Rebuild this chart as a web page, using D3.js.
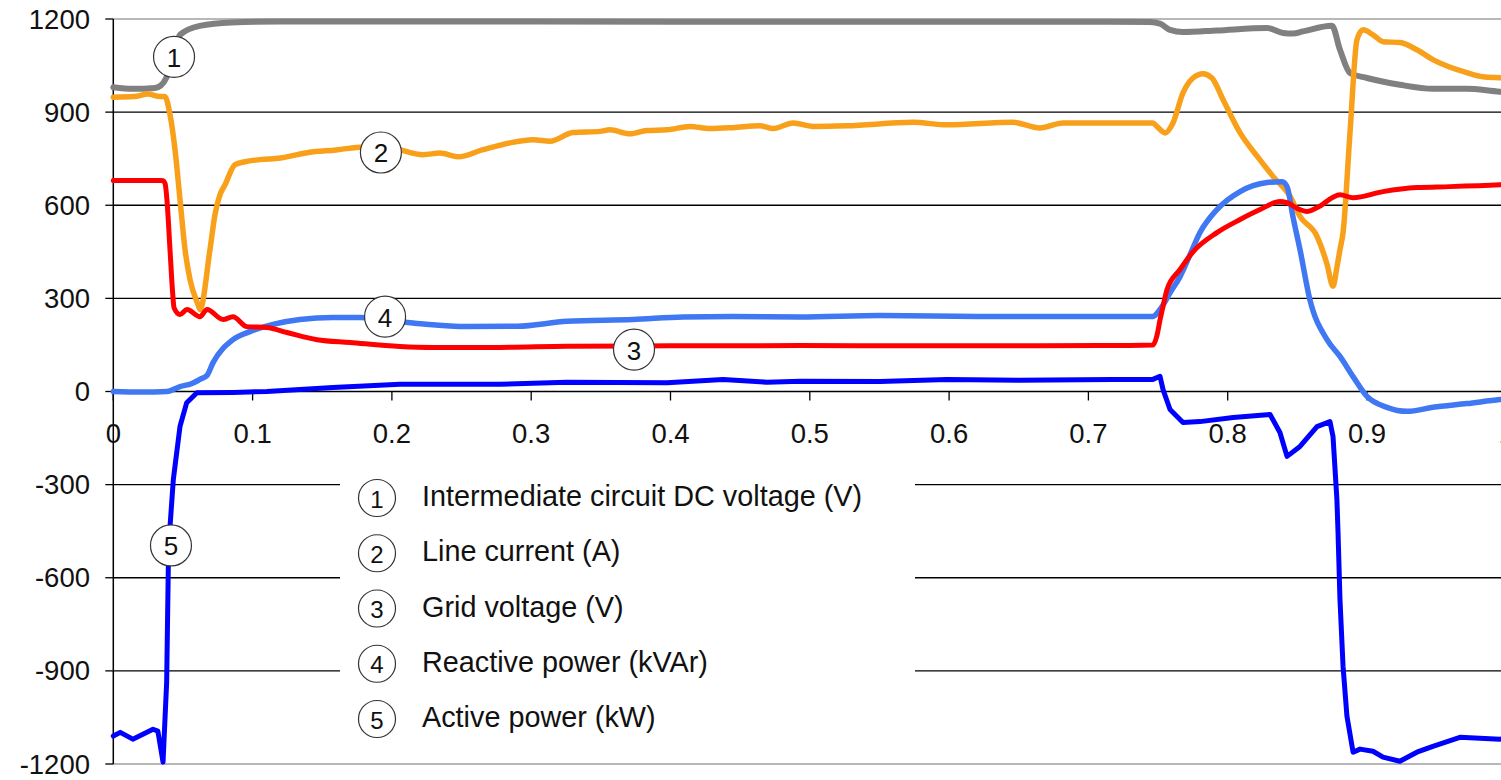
<!DOCTYPE html>
<html>
<head>
<meta charset="utf-8">
<script src="https://cdn.jsdelivr.net/npm/d3@7/dist/d3.min.js"></script>
<style>
  html, body { margin: 0; padding: 0; background: #fff; overflow: hidden; }
  svg { display: block; font-family: "Liberation Sans", Arial, sans-serif; }
</style>
</head>
<body>
<svg id="chart" width="1501" height="780"></svg>
<script>
// Time axis (s) and tick labels
const xTicks = [0, 0.1, 0.2, 0.3, 0.4, 0.5, 0.6, 0.7, 0.8, 0.9, 1];
const xTickLabels = ["0", "0.1", "0.2", "0.3", "0.4", "0.5", "0.6", "0.7", "0.8", "0.9", "1"];
const yTicks = [-1200, -900, -600, -300, 0, 300, 600, 900, 1200];
const yTickLabels = ["-1200", "-900", "-600", "-300", "0", "300", "600", "900", "1200"];

// Series: [time, value]
const dcVoltage = [
  [0,980],[0.014,975],[0.03,978],[0.034,985],[0.038,1010],[0.042,1060],[0.0479,1149],[0.062,1178],
  [0.085,1189],[0.12,1192],[0.3,1192],[0.5,1191],[0.7,1191],[0.7442,1190],[0.7514,1185],[0.7586,1165],
  [0.7679,1158],[0.7923,1163],[0.8283,1171],[0.8397,1155],[0.8468,1153],[0.854,1160],[0.8748,1178],
  [0.8806,1101],[0.8878,1026],[0.9,1010],[0.9236,988],[0.9473,975],[0.9717,975],[0.9954,966],[1,965]
];
const lineCurrent = [
  [0,948],[0.015,950],[0.025,958],[0.0335,950],[0.037,950],[0.0407,892],[0.0443,779],[0.0479,618],
  [0.0515,457],[0.0551,360],[0.0608,280],[0.0622,264],[0.0694,457],[0.073,570],[0.0766,634],[0.0802,666],
  [0.0874,731],[0.0945,740],[0.1053,747],[0.12,752],[0.14,770],[0.16,778],[0.18,788],[0.2,784],
  [0.2223,763],[0.2345,768],[0.2474,756],[0.2654,779],[0.2848,801],[0.3013,811],[0.3135,806],[0.33,834],
  [0.3494,838],[0.3565,843],[0.3709,830],[0.3831,841],[0.3975,843],[0.414,854],[0.4283,847],[0.4448,850],
  [0.4642,856],[0.4737,847],[0.488,865],[0.5023,854],[0.5267,856],[0.5741,867],[0.5985,859],[0.6459,867],
  [0.6652,849],[0.6818,865],[0.7177,865],[0.7463,865],[0.7492,854],[0.755,833],[0.7607,865],[0.7679,962],
  [0.7751,1010],[0.7823,1024],[0.7887,1010],[0.7967,940],[0.8089,833],[0.8211,758],[0.8325,693],
  [0.8447,629],[0.8519,564],[0.8641,500],[0.8713,410],[0.8756,339],[0.8784,400],
  [0.8806,457],[0.8828,512],[0.8878,834],[0.8928,1133],[0.8972,1165],[0.9043,1149],[0.9115,1127],
  [0.9236,1124],[0.9358,1101],[0.9473,1069],[0.9717,1027],[0.9832,1014],[0.9954,1011],[1,1010]
];
const gridVoltage = [
  [0,680],[0.034,680],[0.0357,679],[0.0372,670],[0.0385,618],[0.0407,457],[0.0426,318],[0.0436,270],
  [0.0479,248],[0.0529,264],[0.0622,241],[0.0673,264],[0.0788,232],[0.0859,241],[0.0959,209],
  [0.1103,206],[0.1247,190],[0.1462,167],[0.1699,158],[0.2058,145],[0.2295,142],[0.2776,142],
  [0.3257,146],[0.4,147],[0.493,148],[0.6,147],[0.7083,148],[0.7463,150],[0.7492,180],[0.7514,230],
  [0.7536,275],[0.7564,328],[0.7658,393],[0.7751,450],[0.7923,512],[0.8089,554],[0.8232,586],
  [0.8375,612],[0.8426,608],[0.8519,586],[0.8569,580],[0.8641,592],[0.8806,634],[0.89,624],
  [0.9115,644],[0.9358,657],[0.9595,660],[0.9954,666],[1,667]
];
const reactivePower = [
  [0,0],[0.02,-2],[0.0385,0],[0.0479,16],[0.056,25],[0.0622,39],[0.0673,52],[0.0716,93],[0.0859,167],
  [0.098,193],[0.1146,216],[0.134,232],[0.1577,238],[0.1771,238],[0.218,219],[0.2539,209],[0.2898,210],
  [0.3257,226],[0.3731,232],[0.409,240],[0.4448,242],[0.493,240],[0.5504,245],[0.6222,242],[0.7463,242],
  [0.7514,264],[0.7586,318],[0.7658,370],[0.7729,440],[0.7801,512],[0.7923,586],[0.8089,644],
  [0.8283,673],[0.839,676],[0.8426,660],[0.8468,564],[0.8519,457],[0.859,296],[0.8713,167],
  [0.8806,113],[0.89,48],[0.9,-16],[0.9143,-51],[0.9287,-64],[0.9473,-51],[0.9717,-39],[0.9954,-26],[1,-24]
];
const activePower = [
  [0,-1110],[0.005,-1098],[0.014,-1120],[0.0285,-1088],[0.032,-1094],[0.0357,-1194],[0.0383,-937],
  [0.0397,-500],[0.0431,-283],[0.0479,-112],[0.0527,-36],[0.06,-4],[0.0859,-3],[0.1103,0],[0.1577,13],
  [0.2058,23],[0.2776,23],[0.3257,30],[0.3975,28],[0.4377,39],[0.4692,30],[0.493,33],[0.5504,32],
  [0.5985,39],[0.65,36],[0.7177,39],[0.7463,39],[0.7514,49],[0.7536,6],[0.7586,-58],[0.7679,-100],
  [0.7801,-97],[0.8039,-84],[0.8304,-74],[0.8375,-132],[0.8426,-209],[0.8519,-177],[0.8641,-113],
  [0.8734,-97],[0.8756,-145],[0.8784,-348],[0.8792,-454],[0.8806,-670],[0.8828,-885],[0.8856,-1046],
  [0.89,-1162],[0.895,-1152],[0.9043,-1159],[0.9115,-1178],[0.9236,-1191],[0.9358,-1162],
  [0.9473,-1143],[0.9667,-1114],[0.9954,-1120],[1,-1118]
];

const seriesNames = [
  "Intermediate circuit DC voltage (V)",
  "Line current (A)",
  "Grid voltage (V)",
  "Reactive power (kVAr)",
  "Active power (kW)"
];

const svg = d3.select("#chart");
const W = 1501, H = 780;
const x = d3.scaleLinear().domain([0, 1]).range([113.3, 1506.3]);
const y = d3.scaleLinear().domain([-1200, 1200]).range([764, 19]);

svg.append("rect").attr("width", W).attr("height", H).attr("fill", "#fff");

// horizontal gridlines
svg.append("g").selectAll("line").data(yTicks).join("line")
  .attr("x1", x(0)).attr("x2", W)
  .attr("y1", d => y(d)).attr("y2", d => y(d))
  .attr("stroke", d => Math.abs(d) === 1200 ? "#a0a0a0" : "#000")
  .attr("stroke-width", d => Math.abs(d) === 1200 ? 1.6 : 1.3);

// legend background hides the gridlines behind it
svg.append("rect").attr("x", 340).attr("y", 466).attr("width", 575).attr("height", 282).attr("fill", "#fff");

// y axis
svg.append("line").attr("x1", x(0)).attr("x2", x(0)).attr("y1", y(1200)).attr("y2", y(-1200))
  .attr("stroke", "#000").attr("stroke-width", 1.5);
svg.append("g").selectAll("line").data(yTicks).join("line")
  .attr("x1", x(0) - 8).attr("x2", x(0))
  .attr("y1", d => y(d)).attr("y2", d => y(d))
  .attr("stroke", "#000").attr("stroke-width", 1.3);
svg.append("g").selectAll("text").data(yTicks).join("text")
  .attr("x", 90).attr("y", d => y(d))
  .attr("text-anchor", "end").attr("dominant-baseline", "central")
  .attr("font-size", 27.5).attr("fill", "#111")
  .text((d, i) => yTickLabels[i]);

// x axis ticks along the zero line
svg.append("g").selectAll("line").data(xTicks).join("line")
  .attr("x1", d => x(d)).attr("x2", d => x(d))
  .attr("y1", y(0)).attr("y2", y(0) + 9)
  .attr("stroke", "#000").attr("stroke-width", 1.3);
svg.append("g").selectAll("text").data(xTicks).join("text")
  .attr("x", d => x(d)).attr("y", y(0) + 42)
  .attr("text-anchor", "middle").attr("dominant-baseline", "central")
  .attr("font-size", 27.5).attr("fill", "#111")
  .text((d, i) => xTickLabels[i]);

// curves
const lineSmooth = d3.line().x(d => x(d[0])).y(d => y(d[1])).curve(d3.curveMonotoneX);
const lineRaw = d3.line().x(d => x(d[0])).y(d => y(d[1])).curve(d3.curveLinear);
const series = [
  { data: dcVoltage, color: "#808080", width: 6, gen: lineSmooth },
  { data: lineCurrent, color: "#F9A01B", width: 5.5, gen: lineSmooth },
  { data: reactivePower, color: "#3F78F2", width: 5.5, gen: lineSmooth },
  { data: gridVoltage, color: "#FF0000", width: 5, gen: lineSmooth },
  { data: activePower, color: "#0000FF", width: 5, gen: lineRaw }
];
svg.append("g").selectAll("path").data(series).join("path")
  .attr("d", s => s.gen(s.data))
  .attr("fill", "none")
  .attr("stroke", s => s.color)
  .attr("stroke-width", s => s.width)
  .attr("stroke-linejoin", "round")
  .attr("stroke-linecap", "round");

// numbered markers on the curves
const markers = [
  { n: "1", t: 0.0436, v: 1078 },
  { n: "2", t: 0.1921, v: 770 },
  { n: "3", t: 0.3738, v: 135 },
  { n: "4", t: 0.1951, v: 241 },
  { n: "5", t: 0.0414, v: -496 }
];
const mk = svg.append("g").selectAll("g").data(markers).join("g")
  .attr("transform", d => `translate(${x(d.t)},${y(d.v)})`);
mk.append("circle").attr("r", 20.5).attr("fill", "#fff").attr("stroke", "#333").attr("stroke-width", 1.2);
mk.append("text").attr("text-anchor", "middle").attr("dominant-baseline", "central")
  .attr("y", 1).attr("font-size", 26).attr("fill", "#111").text(d => d.n);

// legend
const lg = svg.append("g").selectAll("g").data(seriesNames).join("g")
  .attr("transform", (d, i) => `translate(0,${496 + i * 55.25})`);
lg.append("circle").attr("cx", 377).attr("cy", 2).attr("r", 18.5)
  .attr("fill", "#fff").attr("stroke", "#333").attr("stroke-width", 1.2);
lg.append("text").attr("x", 377).attr("y", 3).attr("text-anchor", "middle").attr("dominant-baseline", "central")
  .attr("font-size", 24).attr("fill", "#111").text((d, i) => String(i + 1));
lg.append("text").attr("x", 422).attr("y", 0).attr("dominant-baseline", "central")
  .attr("font-size", 28.8).attr("fill", "#111").text(d => d);
</script>
</body>
</html>
